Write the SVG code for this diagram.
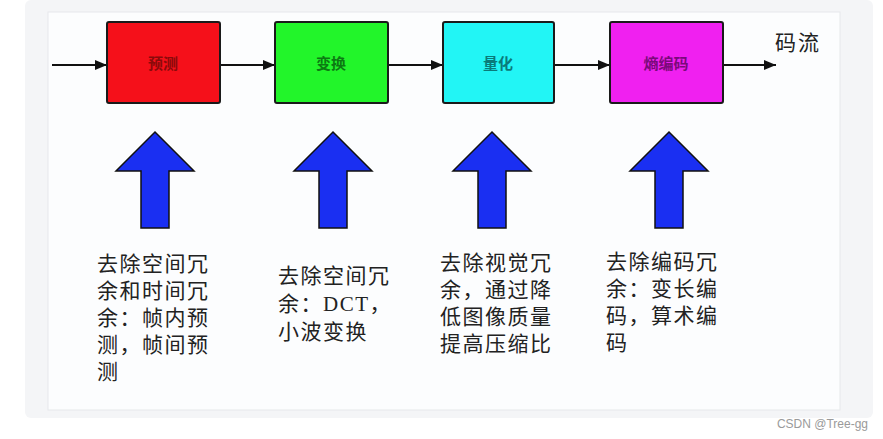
<svg xmlns="http://www.w3.org/2000/svg" width="883" height="439" viewBox="0 0 883 439">
<defs>
<style>
.box{stroke:#1a1a1a;stroke-width:2}
.lbl{font-family:"Noto Sans CJK SC","Liberation Sans",sans-serif;font-size:15px;font-weight:bold;text-anchor:middle}
.note{font-family:"Liberation Serif","Noto Sans CJK SC",serif;font-size:21px;fill:#222;letter-spacing:1.5px}
.conn{stroke:#111;stroke-width:2;fill:none}
.up{fill:#1a2ff2;stroke:#111;stroke-width:1.5;stroke-linejoin:miter}
</style>
<marker id="ah" viewBox="0 0 12 10" refX="12" refY="5" markerWidth="12" markerHeight="10" markerUnits="userSpaceOnUse" orient="auto">
<path d="M0,0 L12,5 L0,10 Z" fill="#111"/>
</marker>
<path id="uparrow" d="M0,0 L39,39 L14,39 L14,96 L-14,96 L-14,39 L-39,39 Z"/>
</defs>
<rect x="0" y="0" width="883" height="439" fill="#ffffff"/>
<rect x="25" y="0" width="848" height="418" rx="6" fill="#f4f5f7"/>
<rect x="48" y="12" width="792" height="398" fill="#fcfdfe" stroke="#e6e8eb" stroke-width="1"/>

<g id="connectors">
<line class="conn" x1="52" y1="65" x2="107" y2="65" marker-end="url(#ah)"/>
<line class="conn" x1="220" y1="65" x2="275" y2="65" marker-end="url(#ah)"/>
<line class="conn" x1="388" y1="65" x2="443" y2="65" marker-end="url(#ah)"/>
<line class="conn" x1="554" y1="65" x2="610" y2="65" marker-end="url(#ah)"/>
<line class="conn" x1="723" y1="65" x2="776" y2="65" marker-end="url(#ah)"/>
</g>

<g id="node-predict">
<rect class="box" x="107" y="22" width="113" height="81" rx="2" fill="#f5101a"/>
<text class="lbl" x="163" y="69" fill="#8a0a0a">预测</text>
</g>
<g id="node-transform">
<rect class="box" x="275" y="22" width="113" height="81" rx="2" fill="#22f52a"/>
<text class="lbl" x="331" y="69" fill="#0c7a12">变换</text>
</g>
<g id="node-quant">
<rect class="box" x="443" y="22" width="111" height="81" rx="2" fill="#22f5f5"/>
<text class="lbl" x="498" y="69" fill="#0a7a7a">量化</text>
</g>
<g id="node-entropy">
<rect class="box" x="610" y="22" width="113" height="81" rx="2" fill="#f020f0"/>
<text class="lbl" x="666" y="69" fill="#7a0a7a">熵编码</text>
</g>
<g id="label-stream">
<text x="775" y="50" style="font-family:'Liberation Serif','Noto Sans CJK SC',serif;font-size:21px;fill:#222;letter-spacing:2px">码流</text>
</g>

<g id="arrow-1"><use href="#uparrow" class="up" x="155" y="132"/></g>
<g id="arrow-2"><use href="#uparrow" class="up" x="333" y="132"/></g>
<g id="arrow-3"><use href="#uparrow" class="up" x="492" y="132"/></g>
<g id="arrow-4"><use href="#uparrow" class="up" x="669" y="132"/></g>

<g id="note-1">
<text class="note" x="97" y="271">去除空间冗</text>
<text class="note" x="97" y="298">余和时间冗</text>
<text class="note" x="97" y="325">余：帧内预</text>
<text class="note" x="97" y="352">测，帧间预</text>
<text class="note" x="97" y="379">测</text>
</g>
<g id="note-2">
<text class="note" x="278" y="283">去除空间冗</text>
<text class="note" x="278" y="311">余：DCT，</text>
<text class="note" x="278" y="339">小波变换</text>
</g>
<g id="note-3">
<text class="note" x="440" y="270">去除视觉冗</text>
<text class="note" x="440" y="297">余，通过降</text>
<text class="note" x="440" y="324">低图像质量</text>
<text class="note" x="440" y="351">提高压缩比</text>
</g>
<g id="note-4">
<text class="note" x="606" y="269">去除编码冗</text>
<text class="note" x="606" y="296">余：变长编</text>
<text class="note" x="606" y="323">码，算术编</text>
<text class="note" x="606" y="350">码</text>
</g>

<text x="868" y="428" text-anchor="end" style="font-family:'Liberation Sans',sans-serif;font-size:12px;fill:#9a9a9a">CSDN @Tree-gg</text>
</svg>
